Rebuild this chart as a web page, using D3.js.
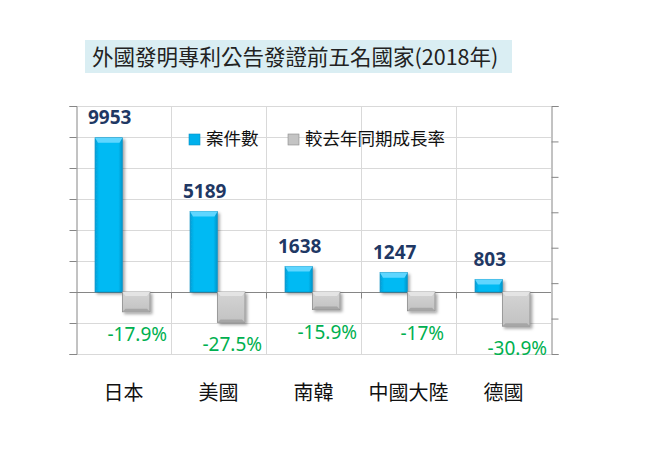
<!DOCTYPE html>
<html>
<head>
<meta charset="utf-8">
<script src="https://cdn.jsdelivr.net/npm/d3@7"></script>
<style>
  body { margin: 0; background: #fff; }
  svg { display: block; }
</style>
</head>
<body>
<svg id="chart"></svg>
<script>
const categories = ["日本", "美國", "南韓", "中國大陸", "德國"];
const counts = [9953, 5189, 1638, 1247, 803];
const growth = [-0.179, -0.275, -0.159, -0.17, -0.309];
const growthLabels = ["-17.9%", "-27.5%", "-15.9%", "-17%", "-30.9%"];
const leftTicks = [-4000, -2000, 0, 2000, 4000, 6000, 8000, 10000, 12000];
const rightTicks = [-0.56, -0.24, 0.08, 0.40, 0.72, 1.04, 1.36, 1.68];
const seriesNames = ["案件數", "較去年同期成長率"];
const title = "外國發明專利公告發證前五名國家(2018年)";

const width = 672, height = 468;
const margin = {top: 106, right: 121, bottom: 114, left: 76};
const cjk = "'Noto Sans CJK TC', 'Noto Sans CJK SC', sans-serif";
const num = "'Noto Sans', 'Open Sans', sans-serif";

const svg = d3.select("#chart")
    .attr("width", width)
    .attr("height", height);

const defs = svg.append("defs");
const blueGrad = defs.append("linearGradient").attr("id", "blueGrad");
blueGrad.append("stop").attr("offset", "0%").attr("stop-color", "#0a9fd6");
blueGrad.append("stop").attr("offset", "15%").attr("stop-color", "#00baf3");
blueGrad.append("stop").attr("offset", "85%").attr("stop-color", "#00baf3");
blueGrad.append("stop").attr("offset", "100%").attr("stop-color", "#0794c8");
const grayGrad = defs.append("linearGradient").attr("id", "grayGrad")
    .attr("x1", 0).attr("y1", 0).attr("x2", 0).attr("y2", 1);
grayGrad.append("stop").attr("offset", "0%").attr("stop-color", "#d4d4d4");
grayGrad.append("stop").attr("offset", "100%").attr("stop-color", "#c2c2c2");
const shadow = defs.append("filter").attr("id", "shadow")
    .attr("x", "-20%").attr("y", "-20%").attr("width", "160%").attr("height", "160%");
shadow.append("feDropShadow")
    .attr("dx", 2).attr("dy", 2).attr("stdDeviation", 1.5)
    .attr("flood-color", "#000").attr("flood-opacity", 0.35);

// title box
svg.append("rect")
    .attr("x", 85).attr("y", 40)
    .attr("width", 427).attr("height", 33)
    .attr("fill", "#daeef3");
svg.append("text")
    .attr("x", 92).attr("y", 65)
    .attr("font-family", cjk)
    .attr("font-size", 21.5)
    .attr("fill", "#222")
    .text(title);

const x = d3.scaleBand()
    .domain(categories)
    .range([margin.left, width - margin.right]);

const xs = d3.scaleBand()
    .domain([0, 1])
    .range([19, x.bandwidth() - 21]);

const yL = d3.scaleLinear()
    .domain([-4000, 12000])
    .range([height - margin.bottom, margin.top]);

const yR = d3.scaleLinear()
    .domain([-0.56, 1.68])
    .range([height - margin.bottom, margin.top]);

// grid
svg.append("g")
    .attr("stroke", "#d9d9d9")
    .selectAll("line")
    .data(leftTicks)
    .join("line")
      .attr("x1", margin.left).attr("x2", width - margin.right)
      .attr("y1", d => yL(d) + 0.5).attr("y2", d => yL(d) + 0.5);

svg.append("g")
    .attr("stroke", "#d9d9d9")
    .selectAll("line")
    .data(categories.slice(1))
    .join("line")
      .attr("x1", d => x(d) + 0.5).attr("x2", d => x(d) + 0.5)
      .attr("y1", margin.top).attr("y2", height - margin.bottom);

const yAxisL = g => g
    .attr("transform", `translate(${margin.left + 0.5},0)`)
    .call(d3.axisLeft(yL).tickValues(leftTicks).tickFormat("").tickSize(7))
    .call(g => g.selectAll("path, line").attr("stroke", "#868686"));

const yAxisR = g => g
    .attr("transform", `translate(${width - margin.right + 0.5},0)`)
    .call(d3.axisRight(yR).tickValues(rightTicks).tickFormat("").tickSize(7))
    .call(g => g.selectAll("path, line").attr("stroke", "#868686"));

svg.append("g").call(yAxisL);
svg.append("g").call(yAxisR);

// category axis at zero
const xAxis = g => g
    .attr("transform", `translate(0,${yL(0) + 0.5})`)
    .call(d3.axisBottom(x).tickValues(categories.slice(1)).tickFormat("").tickSize(6)
        .offset(0))
    .call(g => g.selectAll(".tick").attr("transform", d => `translate(${x(d) + 0.5},0)`))
    .call(g => g.selectAll("path, line").attr("stroke", "#868686"))
    .call(g => g.select(".domain").attr("d", `M${margin.left},0H${width - margin.right}`));
svg.append("g").call(xAxis);

// blue bars
const blue = svg.append("g")
    .selectAll("g")
    .data(counts)
    .join("g")
      .attr("filter", "url(#shadow)");
blue.append("rect")
    .attr("x", (d, i) => x(categories[i]) + xs(0))
    .attr("y", d => yL(d))
    .attr("width", xs.bandwidth())
    .attr("height", d => yL(0) - yL(d))
    .attr("fill", "url(#blueGrad)")
    .attr("stroke", "#0a8fc2")
    .attr("stroke-width", 0.6);
blue.append("path")
    .attr("d", (d, i) => {
        const x0 = x(categories[i]) + xs(0), w = xs.bandwidth(), t = yL(d);
        const b = Math.min(5, (yL(0) - t) / 2);
        return `M${x0},${t}H${x0 + w}L${x0 + w - 3},${t + b}H${x0 + 3}Z`;
    })
    .attr("fill", "#5fd6ff");

// gray bars
const gray = svg.append("g")
    .selectAll("g")
    .data(growth)
    .join("g")
      .attr("filter", "url(#shadow)");
gray.append("rect")
    .attr("x", (d, i) => x(categories[i]) + xs(1))
    .attr("y", yR(0))
    .attr("width", xs.bandwidth())
    .attr("height", d => yR(d) - yR(0))
    .attr("fill", "url(#grayGrad)")
    .attr("stroke", "#8a8a8a")
    .attr("stroke-width", 0.8);
gray.append("path")
    .attr("d", (d, i) => {
        const x0 = x(categories[i]) + xs(1), w = xs.bandwidth(), t = yR(0);
        return `M${x0},${t}H${x0 + w}L${x0 + w - 3},${t + 4}H${x0 + 3}Z`;
    })
    .attr("fill", "#e4e4e4");
gray.append("path")
    .attr("d", (d, i) => {
        const x0 = x(categories[i]) + xs(1), w = xs.bandwidth(), b = yR(d);
        return `M${x0},${b}H${x0 + w}L${x0 + w - 3},${b - 3}H${x0 + 3}Z`;
    })
    .attr("fill", "#a6a6a6");

// value labels
svg.append("g")
    .attr("font-family", num)
    .attr("font-weight", "bold")
    .attr("font-size", 19)
    .attr("fill", "#1f3864")
    .attr("text-anchor", "middle")
    .selectAll("text")
    .data(counts)
    .join("text")
      .attr("x", (d, i) => x(categories[i]) + xs(0) + xs.bandwidth() / 2 + 1)
      .attr("y", d => yL(d) - 14)
      .text(d => d);

svg.append("g")
    .attr("font-family", num)
    .attr("font-size", 19)
    .attr("fill", "#00b050")
    .attr("text-anchor", "middle")
    .selectAll("text")
    .data(growth)
    .join("text")
      .attr("x", (d, i) => x(categories[i]) + xs(1) + xs.bandwidth() / 2 + 1)
      .attr("y", d => yR(d) + 29)
      .text((d, i) => growthLabels[i]);

// category labels
svg.append("g")
    .attr("font-family", cjk)
    .attr("font-size", 20)
    .attr("fill", "#111")
    .attr("text-anchor", "middle")
    .selectAll("text")
    .data(categories)
    .join("text")
      .attr("x", d => x(d) + x.bandwidth() / 2)
      .attr("y", 400)
      .text(d => d);

// legend
const legend = svg.append("g")
    .attr("font-family", cjk)
    .attr("font-size", 17.5)
    .attr("fill", "#111");
const legendX = [189, 288];
const legendFill = ["#00b0ec", "#c4c4c4"];
const legendStroke = ["#0a8fc2", "#8a8a8a"];
seriesNames.forEach((name, i) => {
    legend.append("rect")
        .attr("x", legendX[i]).attr("y", 134)
        .attr("width", 11).attr("height", 11)
        .attr("fill", legendFill[i])
        .attr("stroke", legendStroke[i])
        .attr("stroke-width", 0.6);
    legend.append("text")
        .attr("x", legendX[i] + 17)
        .attr("y", 145)
        .text(name);
});
</script>
</body>
</html>
